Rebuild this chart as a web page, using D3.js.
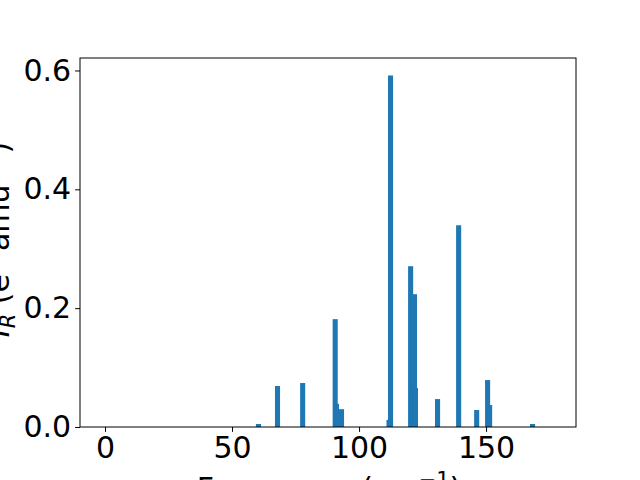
<!DOCTYPE html>
<html><head><meta charset="utf-8">
<script src="https://cdn.jsdelivr.net/npm/d3@7"></script>
<style>body{margin:0;background:#fff}svg{display:block}text{font-family:"DejaVu Sans",sans-serif}</style>
</head><body>
<script>
const frequencies = [60.4, 67.9, 77.8, 90.6, 91.1, 93.1, 111.8, 112.4, 120.3, 121.8, 122.2, 130.9, 139.2, 146.3, 150.6, 151.4, 168.3];
const intensities = [0.005, 0.069, 0.074, 0.1815, 0.039, 0.030, 0.012, 0.5916, 0.2706, 0.2235, 0.0655, 0.047, 0.3395, 0.0286, 0.079, 0.037, 0.005];
const xTicks = [0, 50, 100, 150];
const yTicks = [0.0, 0.2, 0.4, 0.6];
const xLimits = [-9.85, 185.4];
const yLimits = [0, 0.621];
const barWidth = 2;

const W = 640, H = 480, FS = 30;
const m = {left: 80, right: 576, top: 58, bottom: 427};
const svg = d3.select("body").append("svg").attr("width", W).attr("height", H);
const x = d3.scaleLinear().domain(xLimits).range([m.left, m.right]);
const y = d3.scaleLinear().domain(yLimits).range([m.bottom, m.top]);

const data = frequencies.map((f, i) => ({f, v: intensities[i]}));
svg.append("g").selectAll("rect").data(data).join("rect")
  .attr("x", d => x(d.f - barWidth / 2))
  .attr("width", d => x(d.f + barWidth / 2) - x(d.f - barWidth / 2))
  .attr("y", d => y(d.v))
  .attr("height", d => y(0) - y(d.v))
  .attr("fill", "#1f77b4");

const xAxis = svg.append("g").attr("transform", `translate(0,${m.bottom})`)
  .call(d3.axisBottom(x).tickValues(xTicks).tickFormat(d3.format("d")).tickSizeOuter(0).tickSize(4.9).tickPadding(5));
const yAxis = svg.append("g").attr("transform", `translate(${m.left},0)`)
  .call(d3.axisLeft(y).tickValues(yTicks).tickFormat(d3.format(".1f")).tickSizeOuter(0).tickSize(4.9).tickPadding(4));
[xAxis, yAxis].forEach(g => {
  g.select(".domain").remove();
  g.selectAll("line").attr("stroke", "#000").attr("stroke-width", 1);
  g.selectAll("text").attr("font-size", FS).attr("fill", "#000").attr("font-family", "DejaVu Sans");
});
xAxis.selectAll("text").attr("dy", "0.71em");

svg.append("rect").attr("x", m.left).attr("y", m.top)
  .attr("width", m.right - m.left).attr("height", m.bottom - m.top)
  .attr("fill", "none").attr("stroke", "#000").attr("stroke-width", 1);

// x label
const xl = svg.append("text").attr("x", (m.left + m.right) / 2 + 1).attr("y", 499)
  .attr("text-anchor", "middle").attr("font-size", FS);
xl.append("tspan").text("Frequency (cm");
xl.append("tspan").attr("dy", -12).attr("font-size", 21).text("−1");
xl.append("tspan").attr("dy", 12).text(")");

// y label
const yl = svg.append("text")
  .attr("transform", `translate(9,${(m.top + m.bottom) / 2 - 3}) rotate(-90)`)
  .attr("text-anchor", "middle").attr("font-size", FS);
yl.append("tspan").attr("font-style", "italic").text("I");
yl.append("tspan").attr("font-style", "italic").attr("font-size", 21).attr("dy", 6).text("R");
yl.append("tspan").attr("dy", -6).text(" (e");
yl.append("tspan").attr("font-size", 21).attr("dy", -12).text("2");
yl.append("tspan").attr("dy", 12).text(" amu");
yl.append("tspan").attr("font-size", 21).attr("dy", -12).text("−1");
yl.append("tspan").attr("dy", 12).text(")");
</script>
</body></html>
